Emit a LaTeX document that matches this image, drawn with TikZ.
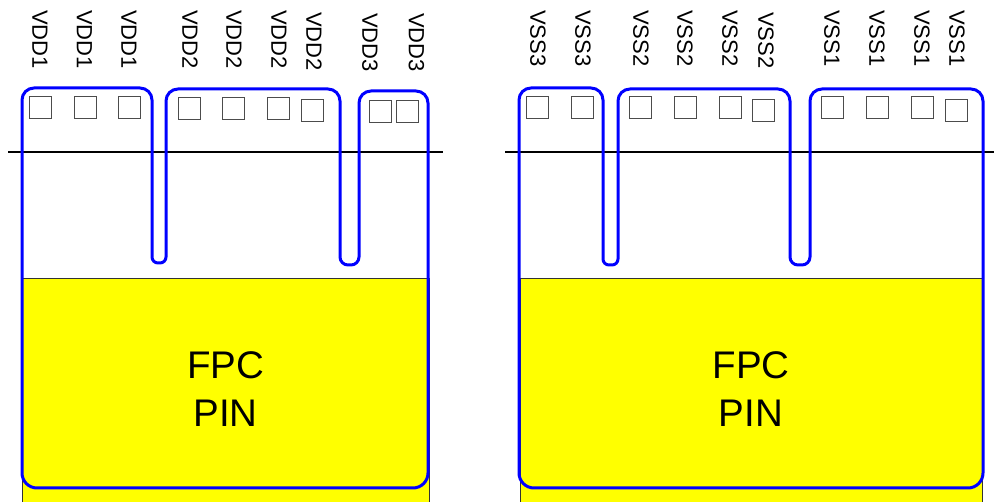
\documentclass[tikz,border=0pt]{standalone}
\usepackage{fontspec}
\setmainfont{Liberation Sans}
\definecolor{fpcyellow}{RGB}{255,255,0}
\definecolor{padblue}{RGB}{0,0,255}
\begin{document}
\begin{tikzpicture}[x=1pt,y=-1pt,
  fpc/.style={fill=fpcyellow, draw=black!80, line width=1pt},
  hline/.style={draw=black, line width=2pt},
  pad/.style={draw=black!70, line width=1pt, minimum size=22pt, inner sep=0pt},
  outline/.style={draw=padblue, line width=3pt, line join=round},
  lbl/.style={rotate=-90, anchor=west, inner sep=0pt, font=\fontsize{22}{22}\selectfont},
  big/.style={align=center, font=\fontsize{38.5}{48}\selectfont, inner sep=0pt}]
\clip (0,0) rectangle (994,502);
\fill[white] (0,0) rectangle (994,502);
% yellow FPC areas
\draw[fpc] (22,279) rectangle (429,510);
\draw[fpc] (520,279) rectangle (982,510);
\node[big] (fpcL) at (225.5,389) {FPC\\PIN};
\node[big] (fpcR) at (751,389) {FPC\\PIN};
% black lines
\coordinate (hl1) at (8,152);
\coordinate (hl2) at (443,152);
\coordinate (hr1) at (505,152);
\coordinate (hr2) at (994,152);
\draw[hline] (hl1) -- (hl2);
\draw[hline] (hr1) -- (hr2);
% pads left
\node[pad] (a1) at (40,108) {};
\node[pad] (a2) at (85,108) {};
\node[pad] (a3) at (129.5,108) {};
\node[pad] (a4) at (189,109) {};
\node[pad] (a5) at (233.5,109) {};
\node[pad] (a6) at (278.5,109) {};
\node[pad] (a7) at (312,111) {};
\node[pad] (a8) at (380,112) {};
\node[pad] (a9) at (407,112) {};
% pads right
\node[pad] (b1) at (537.5,108) {};
\node[pad] (b2) at (582.5,108) {};
\node[pad] (b3) at (640.5,108) {};
\node[pad] (b4) at (685.5,108) {};
\node[pad] (b5) at (730.5,108) {};
\node[pad] (b6) at (763.5,110.5) {};
\node[pad] (b7) at (832,108) {};
\node[pad] (b8) at (877,108) {};
\node[pad] (b9) at (922,108) {};
\node[pad] (b10) at (956,110.5) {};
% labels left
\node[lbl] (la1) at (40,10) {VDD1};
\node[lbl] (la2) at (84.5,10) {VDD1};
\node[lbl] (la3) at (129,10) {VDD1};
\node[lbl] (la4) at (190,10) {VDD2};
\node[lbl] (la5) at (234,10) {VDD2};
\node[lbl] (la6) at (279,10) {VDD2};
\node[lbl] (la7) at (314,12) {VDD2};
\node[lbl] (la8) at (370,13) {VDD3};
\node[lbl] (la9) at (416.5,13) {VDD3};
% labels right
\node[lbl] (lb1) at (538,10) {VSS3};
\node[lbl] (lb2) at (583,10) {VSS3};
\node[lbl] (lb3) at (641,10) {VSS2};
\node[lbl] (lb4) at (685,10) {VSS2};
\node[lbl] (lb5) at (730,10) {VSS2};
\node[lbl] (lb6) at (766,12) {VSS2};
\node[lbl] (lb7) at (832,10) {VSS1};
\node[lbl] (lb8) at (877,10) {VSS1};
\node[lbl] (lb9) at (922,10) {VSS1};
\node[lbl] (lb10) at (957,10) {VSS1};
% blue outlines
\draw[outline] (22,300) [rounded corners=12pt] -- (22,88) -- (152,88) [rounded corners=6pt] -- (152,263) -- (166,263) [rounded corners=12pt] -- (166,89) -- (340,89) [rounded corners=8pt] -- (340,265) -- (359,265) [rounded corners=12pt] -- (359,91) -- (428,91) [rounded corners=15pt] -- (428,488) -- (22,488) -- cycle;
\draw[outline] (519,300) [rounded corners=12pt] -- (519,88) -- (603,88) [rounded corners=6pt] -- (603,265) -- (618,265) [rounded corners=12pt] -- (618,89) -- (790,89) [rounded corners=8pt] -- (790,265) -- (810,265) [rounded corners=12pt] -- (810,89) -- (983,89) [rounded corners=15pt] -- (983,488) -- (519,488) -- cycle;
\end{tikzpicture}
\end{document}
